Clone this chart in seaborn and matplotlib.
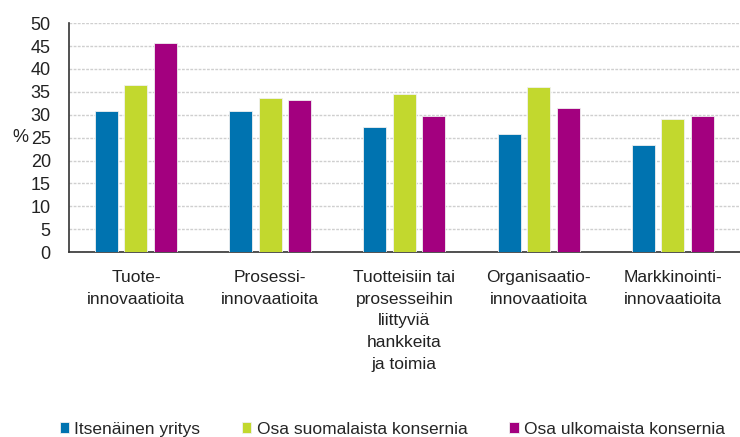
import matplotlib
matplotlib.use("Agg")
import matplotlib.pyplot as plt
import pandas as pd
import seaborn as sns

# values (%)
categories = [
    "Tuote-\ninnovaatioita",
    "Prosessi-\ninnovaatioita",
    "Tuotteisiin tai\nprosesseihin\nliittyviä\nhankkeita\nja toimia",
    "Organisaatio-\ninnovaatioita",
    "Markkinointi-\ninnovaatioita",
]
series = ["Itsenäinen yritys", "Osa suomalaista konsernia", "Osa ulkomaista konsernia"]
itsenainen = [30.9, 30.9, 27.3, 25.9, 23.5]
suomalainen = [36.4, 33.6, 34.6, 36.1, 29.1]
ulkomainen = [45.6, 33.3, 29.8, 31.5, 29.8]
colors = ["#0073b0", "#c2d82e", "#a3007f"]

rows = []
for name, vals in zip(series, [itsenainen, suomalainen, ulkomainen]):
    for cat, v in zip(categories, vals):
        rows.append({"cat": cat, "series": name, "value": v})
df = pd.DataFrame(rows)

sns.set_style("white")
plt.rcParams["font.family"] = ["Liberation Sans", "DejaVu Sans"]

fig = plt.figure(figsize=(7.4, 4.37), dpi=100)
ax = fig.add_axes([0.093, 0.423, 0.907, 0.524])

sns.barplot(data=df, x="cat", y="value", hue="series", palette=colors,
            saturation=1, width=0.66, gap=0.22, edgecolor="#f0f0f0",
            linewidth=0.6, errorbar=None, ax=ax, zorder=3)

ax.set_ylim(0, 50)
ax.set_xlim(-0.5, 4.5)
ax.set_yticks(range(0, 51, 5))
ax.yaxis.grid(True, color="#cfcfcf", linestyle=(0, (2, 1)), linewidth=1.0, zorder=0)
ax.set_axisbelow(True)

for s in ["top", "right"]:
    ax.spines[s].set_visible(False)
for s in ["left", "bottom"]:
    ax.spines[s].set_color("#333333")
    ax.spines[s].set_linewidth(1.2)

ax.tick_params(axis="y", length=0, pad=13, labelsize=13, colors="#222222")
ax.tick_params(axis="x", length=0, pad=13, labelsize=12.5, colors="#222222")
for lbl in ax.get_xticklabels():
    lbl.set_linespacing(1.55)
ax.set_xlabel("")
ax.set_ylabel("%", rotation=0, fontsize=13, color="#222222", va="center")
ax.yaxis.set_label_coords(-0.072, 0.5)

handles, labels = ax.get_legend_handles_labels()
ax.legend(handles, labels, loc="lower center", bbox_to_anchor=(0.53, -0.035),
          bbox_transform=fig.transFigure, ncol=3, frameon=False,
          fontsize=12.5, handlelength=0.55, handleheight=0.55,
          handletextpad=0.3, columnspacing=2.4)

plt.savefig("out.png", dpi=100)
